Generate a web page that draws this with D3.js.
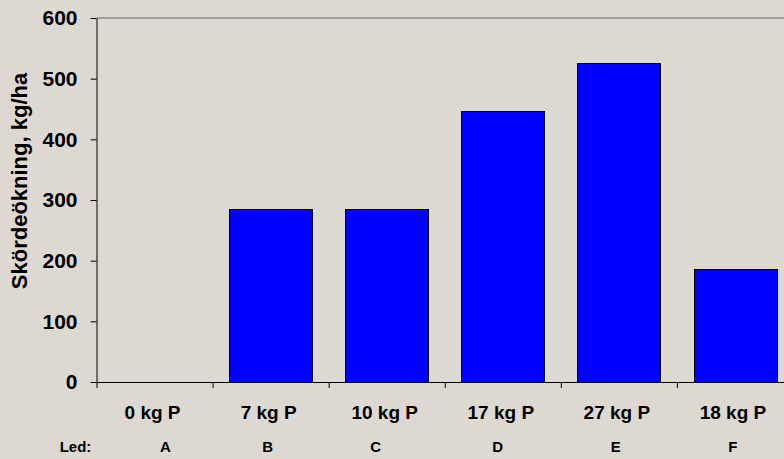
<!DOCTYPE html>
<html>
<head>
<meta charset="utf-8">
<script src="https://cdn.jsdelivr.net/npm/d3@7"></script>
<style>
  html, body { margin: 0; padding: 0; background: #ded8d3; overflow: hidden; }
  svg { display: block; font-family: "Liberation Sans", Arial, sans-serif; font-weight: bold; }
</style>
</head>
<body>
<svg id="chart" width="784" height="459"></svg>
<script>
// Phosphorus treatments and the yield increase each one gave
const categories = ["0 kg P", "7 kg P", "10 kg P", "17 kg P", "27 kg P", "18 kg P"];
const ledLabels = ["A", "B", "C", "D", "E", "F"];
const yieldIncrease = [0, 285, 285, 447, 526, 187];
const yTicks = [0, 100, 200, 300, 400, 500, 600];

const svg = d3.select("#chart");
const plot = { left: 96.5, right: 793, top: 18, bottom: 382 };

const x = d3.scaleBand()
  .domain(categories)
  .range([plot.left, plot.right])
  .paddingInner(0.286)
  .paddingOuter(0.143);

const y = d3.scaleLinear()
  .domain([0, 600])
  .range([plot.bottom, plot.top]);

// boundaries between categories, used for the x-axis tick marks
const xEdges = d3.scaleLinear()
  .domain([0, categories.length])
  .range([plot.left, plot.right]);

// thin frame line along the top of the plot area
svg.append("line")
  .attr("x1", plot.left).attr("x2", plot.right)
  .attr("y1", plot.top).attr("y2", plot.top)
  .attr("stroke", "#8a8a8a").attr("stroke-width", 1.5);

// bars
svg.append("g").selectAll("rect")
  .data(categories.map((c, i) => ({ c, v: yieldIncrease[i] })))
  .join("rect")
  .attr("x", d => Math.round(x(d.c)) + 0.5)
  .attr("y", d => Math.round(y(d.v)) + 0.5)
  .attr("width", Math.round(x.bandwidth()))
  .attr("height", d => Math.round(y(0)) - Math.round(y(d.v)))
  .attr("fill", d => d.v > 0 ? "#0000ff" : "none")
  .attr("stroke", d => d.v > 0 ? "#000" : "none")
  .attr("stroke-width", 1);

// y axis
const yAxis = svg.append("g")
  .attr("transform", `translate(${plot.left},0)`)
  .call(d3.axisLeft(y).tickValues(yTicks).tickSize(6).tickPadding(13).tickSizeOuter(0));
yAxis.select(".domain").attr("stroke", "#000");
yAxis.selectAll(".tick line").attr("stroke", "#000");
yAxis.selectAll(".tick text")
  .attr("font-size", 21)
  .attr("font-family", "Liberation Sans, Arial, sans-serif")
  .attr("font-weight", "bold")
  .attr("fill", "#000");

// x axis: ticks sit on the category boundaries
const xAxis = svg.append("g")
  .attr("transform", `translate(0,${plot.bottom})`)
  .call(d3.axisBottom(xEdges).tickValues(d3.range(categories.length + 1))
    .tickSize(6).tickSizeOuter(0).tickFormat(""));
xAxis.select(".domain").attr("stroke", "#000");
xAxis.selectAll(".tick line").attr("stroke", "#000");

// category labels
svg.append("g").selectAll("text")
  .data(categories)
  .join("text")
  .attr("x", d => x(d) + x.bandwidth() / 2 - 2)
  .attr("y", 419)
  .attr("text-anchor", "middle")
  .attr("font-size", 19)
  .attr("fill", "#000")
  .text(d => d);

// treatment ("Led") row
const ledShift = [11, -3, -11, -5, -3, -2];
svg.append("text")
  .attr("x", 75.5).attr("y", 452)
  .attr("text-anchor", "middle")
  .attr("font-size", 15)
  .attr("fill", "#000")
  .text("Led:");
svg.append("g").selectAll("text")
  .data(ledLabels)
  .join("text")
  .attr("x", (d, i) => x(categories[i]) + x.bandwidth() / 2 + ledShift[i])
  .attr("y", 452)
  .attr("text-anchor", "middle")
  .attr("font-size", 15)
  .attr("fill", "#000")
  .text(d => d);

// y axis title
svg.append("text")
  .attr("transform", "translate(27,181) rotate(-90)")
  .attr("text-anchor", "middle")
  .attr("font-size", 22)
  .attr("fill", "#000")
  .text("Skördeökning, kg/ha");
</script>
</body>
</html>
